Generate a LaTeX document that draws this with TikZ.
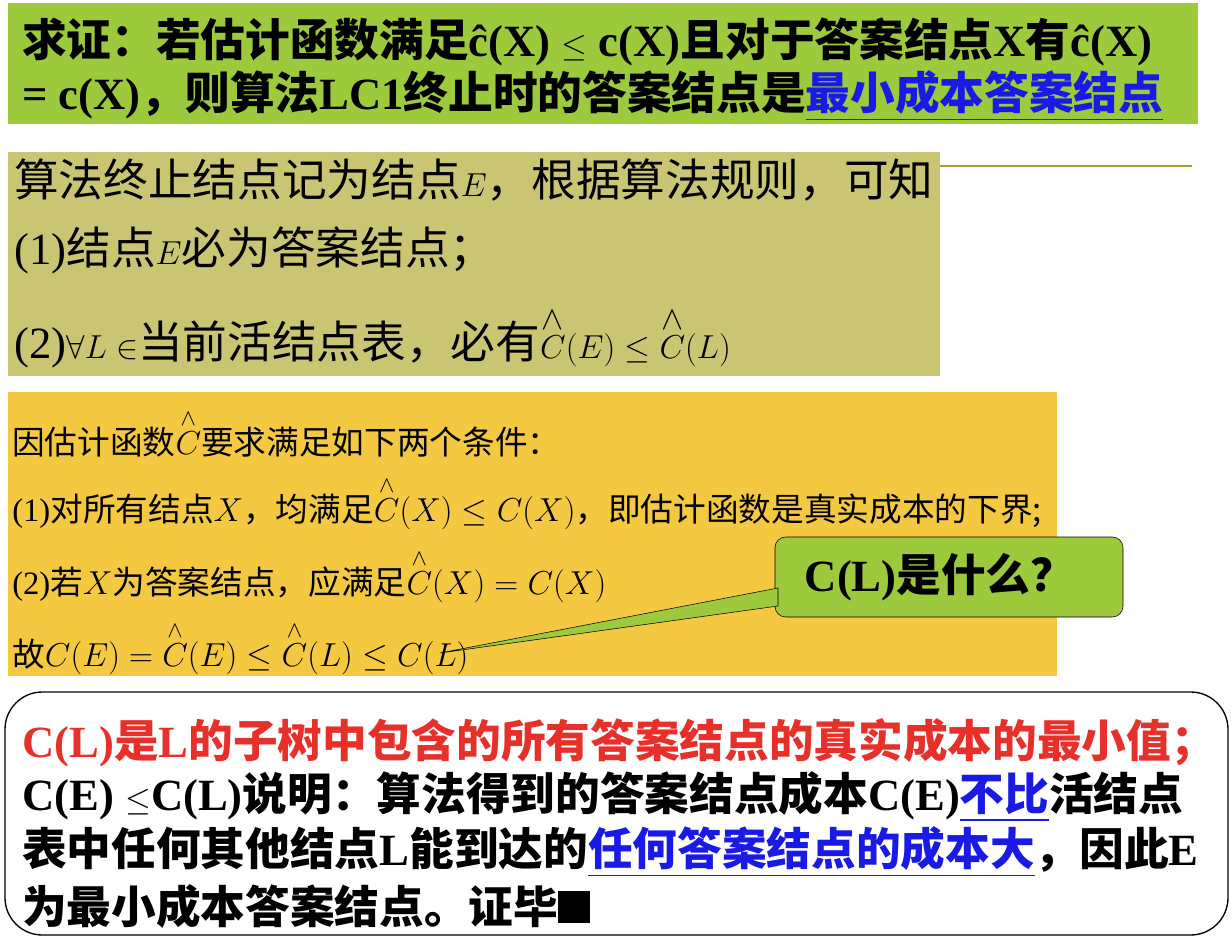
\documentclass[tikz,border=0pt]{standalone}
\usepackage{fontspec}
\usepackage{amsmath}
\setmainfont{Liberation Serif}
\newfontfamily\cjk{Noto Sans CJK SC}
\newcommand{\zh}[1]{{\cjk #1}}
\newcommand{\hC}{\overset{\wedge}{C}}
\definecolor{tgreen}{HTML}{9DC93C}
\definecolor{olivebg}{HTML}{C9C573}
\definecolor{oliveln}{HTML}{A89F30}
\definecolor{orangebg}{HTML}{F5C842}
\definecolor{linkblue}{HTML}{1A1AE6}
\definecolor{redtxt}{HTML}{E8302A}
\newcommand{\lk}[1]{\textcolor{linkblue}{\underline{#1}}}
\begin{document}
\begin{tikzpicture}[x=0.75pt,y=-0.75pt,
  txt/.style={anchor=west,inner sep=0pt},
  big/.style={font=\fontsize{33.5}{36}\selectfont},
  mid/.style={font=\fontsize{24.5}{27}\selectfont}]
\useasboundingbox (0,0) rectangle (1232,938);
% title
\fill[tgreen] (8,3) rectangle (1198,124);
\node[txt,big] (t1) at (22,42) {\bfseries\zh{求证：若估计函数满足}ĉ(X) $\le$ c(X)\zh{且对于答案结点}X\zh{有}ĉ(X)};
\node[txt,big] (t2) at (22,96) {\bfseries = c(X)\zh{，则算法}LC1\zh{终止时的答案结点是}\lk{\zh{最小成本答案结点}}};
% olive box
\fill[olivebg] (8,152) rectangle (940,376);
\draw[oliveln,line width=1.5pt] (940,166) -- (1192,166);
\node[txt,big] (o1) at (14,180) {\zh{算法终止结点记为结点}$E$\zh{，根据算法规则，可知}};
\node[txt,big] (o2) at (14,250) {(1)\zh{结点}$E$\zh{必为答案结点；}};
\node[txt,big] (o3) at (14,338) {(2)$\forall L\in$\zh{当前活结点表，必有}$\hC(E)\le\hC(L)$};
% orange box
\fill[orangebg] (8,392) rectangle (1057,676);
\node[txt,mid] (r1) at (12,433) {\zh{因估计函数}$\hC$\zh{要求满足如下两个条件：}};
\node[txt,mid] (r2) at (12,503) {(1)\zh{对所有结点}$X$\zh{，均满足}$\hC(X)\le C(X)$\zh{，即估计函数是真实成本的下界;}};
\node[txt,mid] (r3) at (12,576) {(2)\zh{若}$X$\zh{为答案结点，应满足}$\hC(X)=C(X)$};
\node[txt,mid] (r4) at (12,648) {\zh{故}$C(E)=\hC(E)\le\hC(L)\le C(L)$};
\coordinate (tip) at (440,653);
% callout
\draw[fill=tgreen,rounded corners=8pt] (775,537) rectangle (1123,617);
\fill[tgreen,draw=black] (tip) -- (778,588) -- (778,606) -- cycle;
\fill[tgreen] (780,587) rectangle (800,608);
\node[big] (q) at (940,577) {\bfseries C(L)\zh{是什么？}};
% bottom box
\draw[line width=1pt,rounded corners=28pt] (5,692) rectangle (1228,935);
\node[txt,big] (b1) at (22,743) {\bfseries\textcolor{redtxt}{C(L)\zh{是}L\zh{的子树中包含的所有答案结点的真实成本的最小值；}}};
\node[txt,big] (b2) at (22,797) {\bfseries C(E) $\le$C(L)\zh{说明：算法得到的答案结点成本}C(E)\lk{\zh{不比}}\zh{活结点}};
\node[txt,big] (b3) at (22,852) {\bfseries\zh{表中任何其他结点}L\zh{能到达的}\lk{\zh{任何答案结点的成本大}}\zh{，因此}E};
\node[txt,big] (b4) at (22,906) {\bfseries\zh{为最小成本答案结点。证毕}\rule{24pt}{24pt}};
\end{tikzpicture}
\end{document}
